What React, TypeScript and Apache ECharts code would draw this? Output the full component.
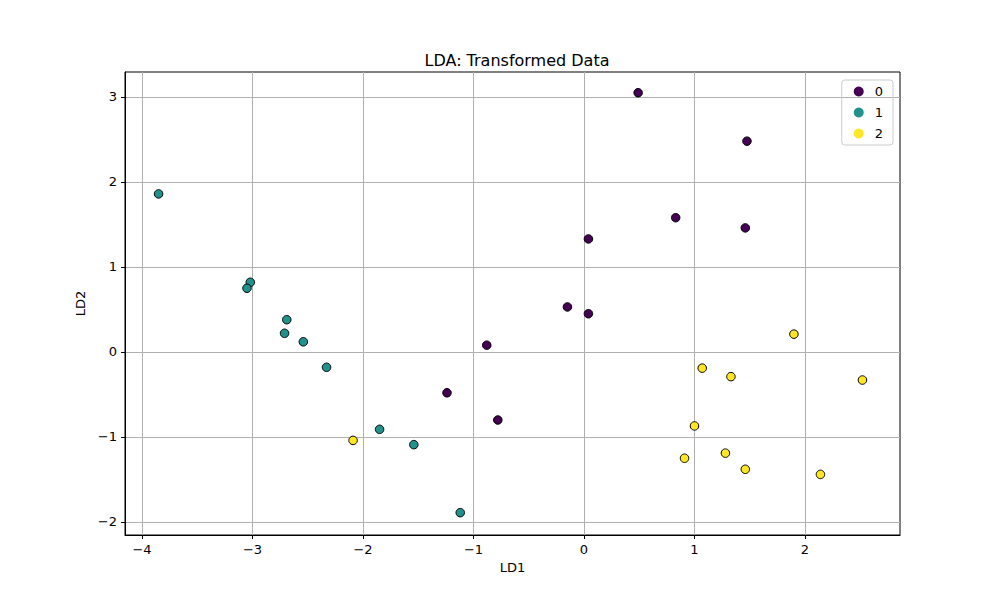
import { useEffect, useRef } from "react";
import * as echarts from "echarts";

const class0 = [
  [0.49, 3.05], [1.475, 2.48], [0.83, 1.58], [1.46, 1.46], [0.04, 1.33],
  [-0.15, 0.53], [0.04, 0.45], [-0.88, 0.08], [-1.24, -0.48], [-0.78, -0.8],
];
const class1 = [
  [-3.85, 1.86], [-3.02, 0.82], [-3.05, 0.75], [-2.69, 0.38], [-2.71, 0.22],
  [-2.54, 0.12], [-2.33, -0.18], [-1.85, -0.91], [-1.54, -1.09], [-1.12, -1.89],
];
const class2 = [
  [-2.09, -1.04], [1.9, 0.21], [2.52, -0.33], [1.07, -0.19], [1.33, -0.29],
  [1.0, -0.87], [0.91, -1.25], [1.28, -1.19], [1.46, -1.38], [2.14, -1.44],
];
const xTicks = [-4, -3, -2, -1, 0, 1, 2];
const yTicks = [-2, -1, 0, 1, 2, 3];
const names = ["0", "1", "2"];
const colors = ["#440154", "#21918c", "#fde725"];

const font = "DejaVu Sans";

export default function App() {
  const ref = useRef<HTMLDivElement>(null);
  useEffect(() => {
    const chart = echarts.init(ref.current!, null, { renderer: "svg" });
    const axisCommon = {
      axisLine: { onZero: false, lineStyle: { color: "#000" } },
      axisTick: { length: 4, lineStyle: { color: "#000" } },
      axisLabel: { color: "#000", fontFamily: font, fontSize: 13 },
      splitLine: { show: true, lineStyle: { color: "#b0b0b0", width: 1 } },
      nameTextStyle: { color: "#000", fontFamily: font, fontSize: 13 },
      nameLocation: "middle" as const,
    };
    chart.setOption({
      animation: false,
      title: {
        text: "LDA: Transformed Data",
        left: 512,
        top: 47,
        textAlign: "center",
        textStyle: { fontFamily: font, fontSize: 16, fontWeight: "normal", color: "#000" },
      },
      grid: { left: 125, right: 100, top: 72, bottom: 65, show: true, borderColor: "#000", borderWidth: 1 },
      legend: {
        orient: "vertical",
        right: 107,
        top: 80,
        padding: [5, 10, 5, 12],
        borderColor: "#ccc",
        borderWidth: 1,
        borderRadius: 3,
        itemWidth: 10,
        itemHeight: 10,
        itemGap: 8,
        icon: "circle",
        itemStyle: { borderWidth: 0 },
        textStyle: { fontFamily: font, fontSize: 13, color: "#000", padding: [0, 0, 0, 6] },
        data: names,
      },
      xAxis: {
        ...axisCommon,
        type: "value",
        min: -4.154,
        max: 2.86,
        name: "LD1",
        nameGap: 26,
        axisTick: { ...axisCommon.axisTick, customValues: xTicks },
        axisLabel: { ...axisCommon.axisLabel, customValues: xTicks, formatter: (v: number) => String(v).replace("-", "−") },
      },
      yAxis: {
        ...axisCommon,
        type: "value",
        min: -2.153,
        max: 3.294,
        name: "LD2",
        nameGap: 38,
        axisTick: { ...axisCommon.axisTick, customValues: yTicks },
        axisLabel: { ...axisCommon.axisLabel, customValues: yTicks, formatter: (v: number) => String(v).replace("-", "−") },
      },
      series: [class0, class1, class2].map((d, i) => ({
        name: names[i],
        type: "scatter",
        data: d,
        symbolSize: 8.5,
        itemStyle: { color: colors[i], borderColor: "#000", borderWidth: 1, opacity: 1 },
      })),
    });
    return () => chart.dispose();
  }, []);
  return <div ref={ref} style={{ position: "absolute", left: 0, top: 0, width: 1000, height: 600 }} />;
}
